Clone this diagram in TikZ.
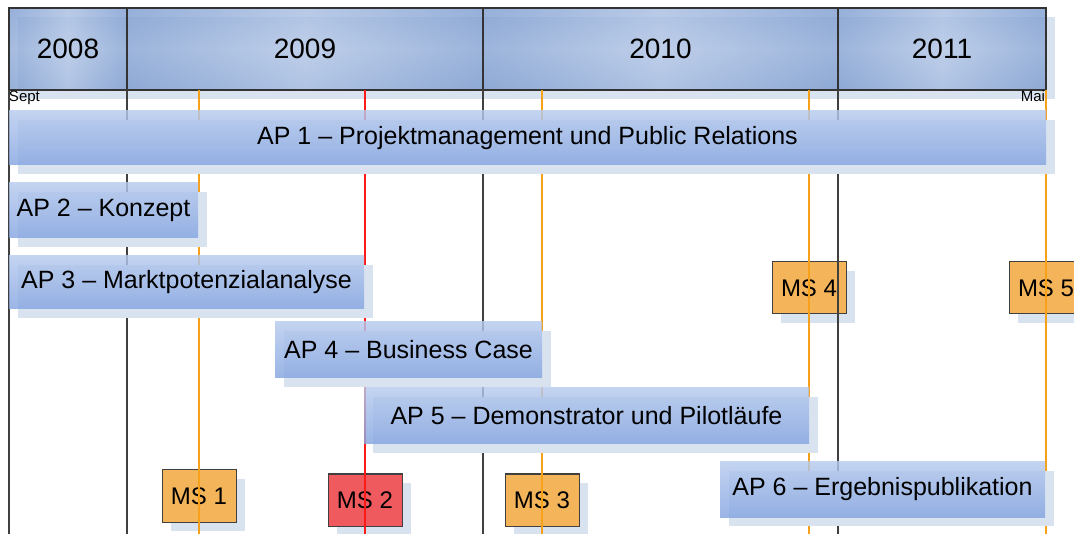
\documentclass[tikz,border=0pt]{standalone}
\usepackage{fontspec}
\setmainfont{Liberation Sans}
\usetikzlibrary{positioning}
\usetikzlibrary{shadows}

\definecolor{hdrblue}{HTML}{7B9BCF}
\definecolor{hdrlight}{HTML}{B8CAE8}
\definecolor{bartop}{HTML}{B6CAEE}
\definecolor{barbot}{HTML}{84A4E0}
\definecolor{shade}{HTML}{D9E3F0}
\definecolor{msorange}{HTML}{F3B45A}
\definecolor{msred}{HTML}{EE5A5E}
\definecolor{lineorange}{HTML}{F7A01A}
\definecolor{linered}{HTML}{FF1A1A}

\begin{document}
\begin{tikzpicture}[x=1pt,y=-1pt,
  every node/.style={inner sep=0pt,outer sep=0pt},
  shadowed/.style={drop shadow={shadow xshift=9pt,shadow yshift=-9pt,fill=shade,opacity=1}},
  year/.style={shadowed,
    preaction={top color=hdrblue,bottom color=hdrblue,middle color=hdrlight},
    draw=black!80,line width=1.2pt,minimum height=82pt,
    left color=hdrblue,right color=hdrblue,middle color=hdrlight,
    fill opacity=0.55,text opacity=1,
    font=\fontsize{28}{34}\selectfont},
  ap/.style={anchor=north west,top color=bartop,bottom color=barbot,
    fill opacity=0.82,text opacity=1,font=\fontsize{25}{30}\selectfont,shadowed},
  ms/.style={draw=black!75,line width=1pt,fill=msorange,
    minimum width=74pt,minimum height=52pt,
    font=\fontsize{24}{28}\selectfont,shadowed},
  divider/.style={draw=black!75,line width=1.2pt},
  msline/.style={draw=lineorange,line width=2pt}]
  \useasboundingbox (0,0) rectangle (1074,534);
  \clip (0,0) rectangle (1074,534);
  \coordinate (bot) at (0,534);

  % header
  \node[year,anchor=north west,minimum width=118pt] (y2008) at (9,8) {2008};
  \node[year,anchor=west,minimum width=356pt,right=0pt of y2008] (y2009) {2009};
  \node[year,anchor=west,minimum width=355pt,right=0pt of y2009] (y2010) {2010};
  \node[year,anchor=west,minimum width=208pt,right=0pt of y2010] (y2011) {2011};
  \node[font=\fontsize{15}{16}\selectfont,anchor=north west] (sept) at (9,91) {Sept};
  \node[font=\fontsize{15}{16}\selectfont,anchor=north east] (mai) at (1045,91) {Mai};

  % milestones
  \node[ms] (ms1) at (199,496) {MS 1};
  \node[ms,fill=msred] (ms2) at (365,500) {MS 2};
  \node[ms] (ms3) at (542,500) {MS 3};
  \node[ms] (ms4) at (809,288) {MS 4};
  \node[ms] (ms5) at (1046,288) {MS 5};

  % grid lines
  \path[divider] (y2008.south west) -- (y2008.south west |- bot);
  \path[divider] (y2009.south west) -- (y2009.south west |- bot);
  \path[divider] (y2010.south west) -- (y2010.south west |- bot);
  \path[divider] (y2011.south west) -- (y2011.south west |- bot);
  \path[msline] (ms1 |- y2008.south) -- (ms1 |- bot);
  \path[msline,draw=linered] (ms2 |- y2009.south) -- (ms2 |- bot);
  \path[msline] (ms3 |- y2010.south) -- (ms3 |- bot);
  \path[msline] (ms4 |- y2010.south) -- (ms4 |- bot);
  \path[msline] (ms5 |- y2011.south) -- (ms5 |- bot);

  % work packages
  \node[ap,minimum width=1037pt,minimum height=54pt] (ap1) at (9,111)
    {AP 1 -- Projektmanagement und Public Relations};
  \node[ap,minimum width=189pt,minimum height=55pt] (ap2) at (9,183) {AP 2 -- Konzept};
  \node[ap,minimum width=355pt,minimum height=53pt] (ap3) at (9,256)
    {AP 3 -- Marktpotenzialanalyse};
  \node[ap,minimum width=267pt,minimum height=56pt] (ap4) at (275,322) {AP 4 -- Business Case};
  \node[ap,minimum width=445pt,minimum height=56pt] (ap5) at (364,388)
    {AP 5 -- Demonstrator und Pilotläufe};
  \node[ap,minimum width=325pt,minimum height=55pt] (ap6) at (720,462)
    {AP 6 -- Ergebnispublikation};
\end{tikzpicture}
\end{document}
